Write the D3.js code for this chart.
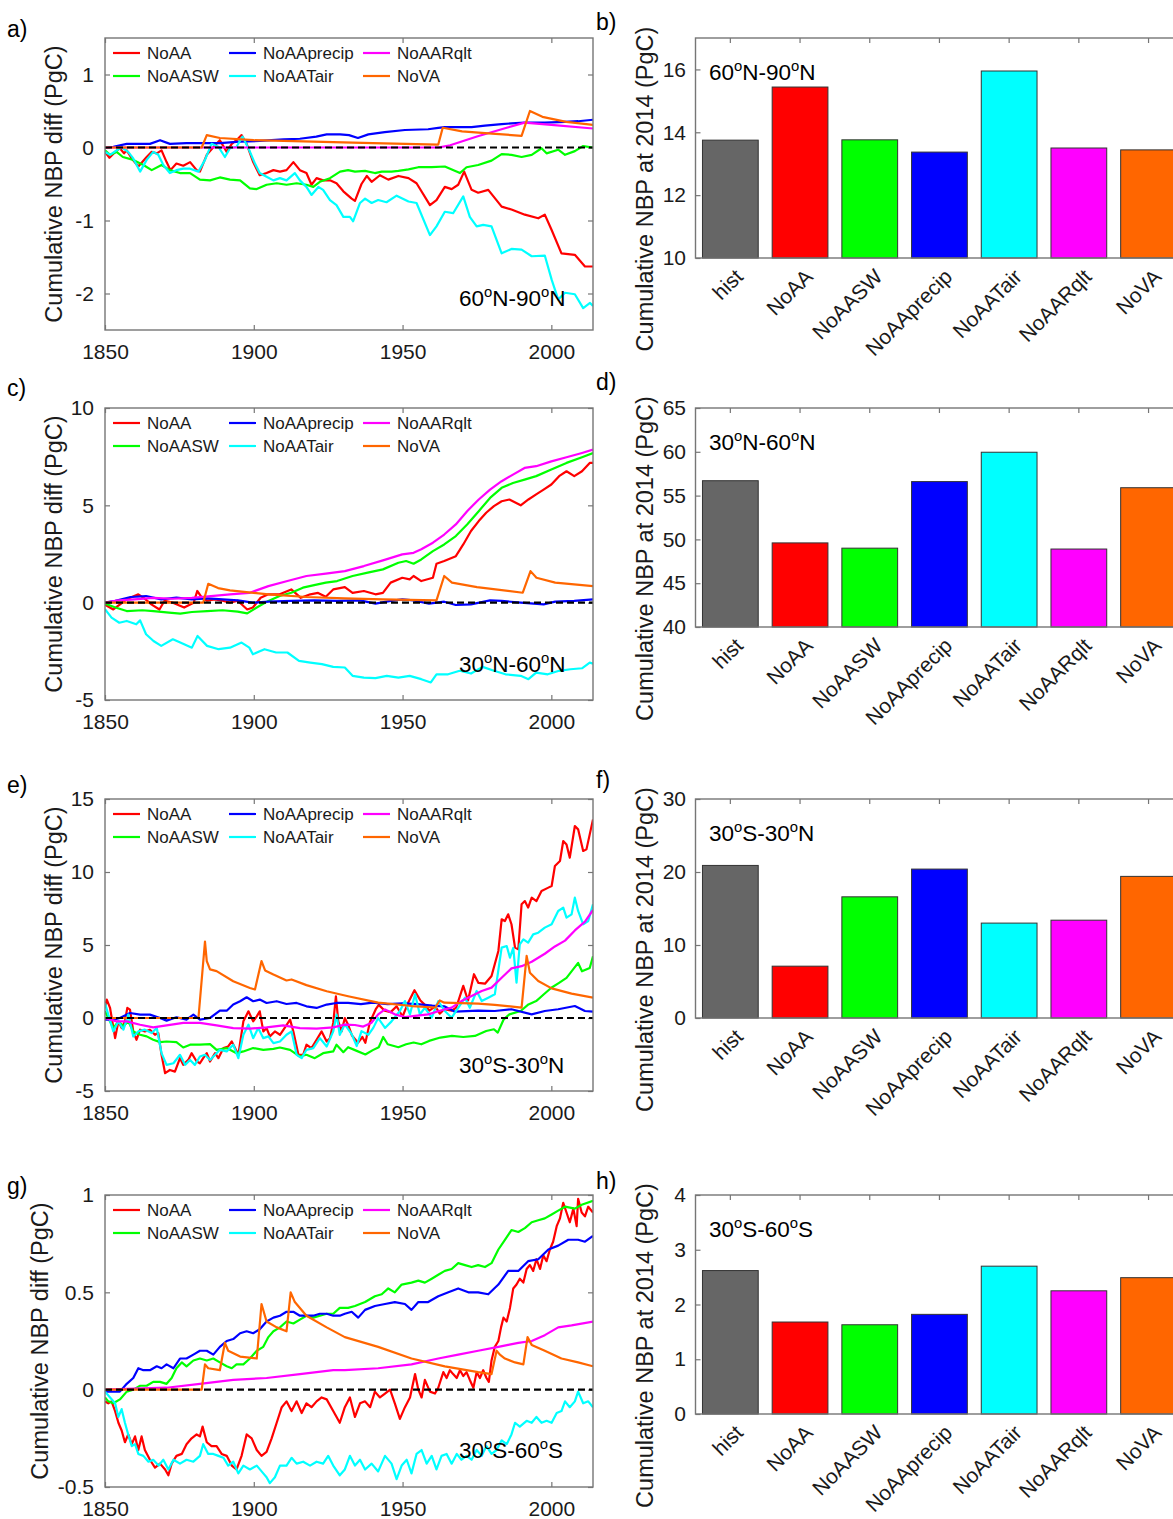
<!DOCTYPE html>
<html><head><meta charset="utf-8">
<script src="https://cdn.jsdelivr.net/npm/d3@7"></script>
<style>
body{margin:0;background:#fff}
svg{display:block}
text{font-family:"Liberation Sans",Arial,Helvetica,sans-serif}
</style>
</head><body>
<svg id="chart" width="1173" height="1519"></svg>
<script>
// ---------------- DATA ----------------
const yearTicks = [1850, 1900, 1950, 2000];
const seriesNames = ["NoAA", "NoAASW", "NoAAprecip", "NoAATair", "NoAARqlt", "NoVA"];
const barCategories = ["hist", "NoAA", "NoAASW", "NoAAprecip", "NoAATair", "NoAARqlt", "NoVA"];

// panel a : 60N-90N  [year, cumulative NBP diff]
const a_NoAA = [[1850,-0.06],[1851.5,-0.14],[1853.4,-0.06],[1855,-0.01],[1856.4,-0.08],[1857.3,-0.04],[1859,-0.15],[1861.2,-0.26],[1864,-0.13],[1865.7,-0.06],[1867.4,-0.08],[1869,-0.04],[1870.7,-0.2],[1872,-0.31],[1874,-0.22],[1876.3,-0.25],[1878.6,-0.2],[1880.8,-0.31],[1881.9,-0.33],[1884.2,-0.1],[1887,0.03],[1888.6,0.1],[1890.9,-0.06],[1892.6,0.05],[1894.2,0.1],[1895.9,0.17],[1897.6,0.05],[1899.8,-0.2],[1902,-0.38],[1904.3,-0.35],[1906.6,-0.31],[1908.8,-0.33],[1911,-0.31],[1913.3,-0.2],[1915.5,-0.31],[1917.7,-0.35],[1919.4,-0.51],[1921.1,-0.42],[1923.3,-0.45],[1925.6,-0.45],[1927.8,-0.49],[1930.1,-0.6],[1932.9,-0.7],[1934,-0.73],[1936.2,-0.5],[1938,-0.39],[1939.6,-0.47],[1942.4,-0.38],[1945.2,-0.44],[1948.6,-0.39],[1952,-0.42],[1954.7,-0.49],[1959.2,-0.79],[1961.4,-0.72],[1964.2,-0.54],[1966.5,-0.57],[1968.7,-0.51],[1970.7,-0.33],[1973.2,-0.58],[1975.4,-0.62],[1978.8,-0.58],[1983.3,-0.81],[1986.6,-0.85],[1991.1,-0.92],[1995.6,-0.97],[1997.8,-0.92],[2000.1,-1.13],[2003.4,-1.45],[2007.9,-1.47],[2011.3,-1.63],[2014,-1.63]];
const a_NoAASW = [[1850,-0.04],[1851.7,-0.1],[1853.9,-0.06],[1856,-0.13],[1859.5,-0.17],[1862.9,-0.24],[1865.7,-0.31],[1869,-0.24],[1871.8,-0.31],[1875.2,-0.35],[1878.6,-0.35],[1881.9,-0.44],[1885.3,-0.45],[1888.6,-0.41],[1892,-0.44],[1895.4,-0.45],[1898.7,-0.56],[1901,-0.57],[1904.3,-0.51],[1907.7,-0.49],[1911,-0.51],[1914.4,-0.49],[1917.7,-0.51],[1920,-0.54],[1922.2,-0.47],[1925.6,-0.42],[1929,-0.33],[1931.7,-0.31],[1934,-0.33],[1937.4,-0.32],[1940.7,-0.35],[1943,-0.33],[1946.3,-0.33],[1948.6,-0.32],[1952,-0.3],[1955.3,-0.27],[1959.8,-0.27],[1964.2,-0.26],[1969.3,-0.35],[1971.5,-0.27],[1975.4,-0.24],[1979.9,-0.18],[1983.3,-0.09],[1986.6,-0.1],[1990,-0.13],[1993.4,-0.1],[1996.7,-0.01],[1998.4,-0.08],[2002.3,-0.03],[2004.6,-0.1],[2007.9,-0.05],[2010.7,0.02],[2014,0]];
const a_NoAAprecip = [[1850,-0.01],[1852.8,0.01],[1857.3,0.05],[1861.8,0.05],[1865.1,0.05],[1868.5,0.1],[1871.8,0.05],[1877.4,0.06],[1881.9,0.06],[1888.6,0.06],[1895.4,0.08],[1902,0.09],[1910,0.11],[1915.5,0.12],[1921,0.15],[1924.5,0.18],[1929,0.18],[1932,0.17],[1935,0.13],[1938.5,0.18],[1944,0.21],[1950.8,0.24],[1958.6,0.25],[1962,0.27],[1964.2,0.28],[1973.2,0.28],[1977.7,0.3],[1983.3,0.32],[1986.6,0.33],[1991.1,0.34],[1997.8,0.34],[2004.6,0.35],[2009,0.36],[2014,0.38]];
const a_NoAATair = [[1850,-0.06],[1851.7,-0.1],[1853.9,-0.04],[1855.6,0],[1857.8,-0.06],[1859.5,-0.15],[1861.8,-0.33],[1864,-0.17],[1866.2,-0.06],[1867.9,-0.1],[1869.6,-0.24],[1871.8,-0.35],[1874,-0.31],[1876.3,-0.29],[1878.6,-0.29],[1881.4,-0.33],[1883.6,-0.17],[1885.8,0.05],[1888.1,0.01],[1890.3,-0.13],[1892,-0.01],[1894.2,0.01],[1896.2,0.15],[1898.2,-0.01],[1900.4,-0.22],[1902,-0.35],[1904.3,-0.4],[1906.6,-0.45],[1908.8,-0.42],[1911,-0.45],[1913.8,-0.35],[1915.5,-0.45],[1917.7,-0.54],[1919.4,-0.65],[1921.7,-0.54],[1923.3,-0.58],[1925.6,-0.72],[1927.8,-0.79],[1930.1,-0.95],[1932.3,-0.95],[1933.4,-1.01],[1935.7,-0.76],[1937.4,-0.7],[1939.6,-0.76],[1941.8,-0.72],[1944.6,-0.75],[1948,-0.66],[1952,-0.74],[1954.7,-0.76],[1959.2,-1.2],[1961.4,-1.08],[1964.2,-0.88],[1967,-0.9],[1970.4,-0.67],[1972.6,-0.95],[1974.9,-1.08],[1977.1,-1.06],[1979.9,-1.08],[1983.3,-1.45],[1986.6,-1.39],[1990,-1.4],[1993.4,-1.49],[1997.8,-1.48],[2000.1,-1.81],[2002.3,-2.08],[2004.6,-1.99],[2007.9,-2.01],[2010.7,-2.2],[2013,-2.13],[2014,-2.17]];
const a_NoAARqlt = [[1850,0],[1962,0],[1966,0.03],[1975,0.15],[1985,0.27],[1991,0.34],[2000,0.31],[2014,0.26]];
const a_NoVA = [[1850,0],[1882.5,0],[1884.2,0.17],[1888.6,0.13],[1900,0.1],[1920,0.08],[1940,0.06],[1962,0.04],[1963.5,0.27],[1970,0.22],[1980,0.19],[1990,0.16],[1992.8,0.5],[1997,0.42],[2005,0.35],[2014,0.31]];

// panel c : 30N-60N
const c_NoAA = [[1850,-0.1],[1852.8,-0.35],[1857.3,0.17],[1861.2,0.43],[1863,0.25],[1865.7,-0.1],[1868.3,-0.35],[1870,0.1],[1872.8,0],[1876.6,-0.25],[1879.8,0],[1881,0.6],[1882.4,0.3],[1884.3,0.1],[1886.9,0.17],[1889.5,0.1],[1892,0],[1894.6,0.1],[1897.8,-0.35],[1899.7,-0.25],[1902.3,0.25],[1904.9,0.43],[1908.7,0.43],[1912.6,0.68],[1915.8,0.25],[1919,0.43],[1921.6,0.5],[1924.2,0.3],[1926.7,0.68],[1930.6,0.8],[1933.2,0.5],[1937,0.6],[1940.9,0.43],[1943.4,0.5],[1946,1.03],[1949.9,1.28],[1952.4,1.2],[1953.7,1.37],[1956.3,1.11],[1960.2,1.28],[1961.4,2.0],[1964,2.14],[1967.9,2.39],[1970.4,2.99],[1973,3.68],[1975.6,4.19],[1978.1,4.62],[1980.7,4.96],[1983.3,5.21],[1985.9,5.3],[1989.7,5.0],[1992.3,5.3],[1994.9,5.56],[1997.4,5.81],[2000,6.07],[2002.6,6.5],[2005.1,6.75],[2007.7,6.5],[2010.3,6.75],[2012.9,7.18],[2014,7.18]];
const c_NoAASW = [[1850,-0.05],[1853.5,-0.25],[1857.3,-0.43],[1862.5,-0.39],[1866.3,-0.43],[1871.5,-0.51],[1875.3,-0.56],[1879.2,-0.48],[1884.3,-0.43],[1889.5,-0.39],[1894.6,-0.46],[1897.8,-0.55],[1901,-0.25],[1904.9,0.09],[1908.7,0.34],[1912.6,0.51],[1916.5,0.77],[1920.3,0.9],[1924.2,1.03],[1928,1.11],[1933.2,1.37],[1938.3,1.54],[1943.4,1.71],[1948.6,2.05],[1951.2,2.14],[1953.7,2.0],[1956.3,2.22],[1960.2,2.65],[1964,2.99],[1967.9,3.42],[1971.7,4.02],[1975.6,4.7],[1979.4,5.38],[1983.3,5.9],[1987.1,6.15],[1991,6.32],[1994.9,6.5],[2000,6.84],[2005.1,7.18],[2010.3,7.47],[2014,7.69]];
const c_NoAAprecip = [[1850,0],[1853.5,0.09],[1858.6,0.29],[1863.8,0.34],[1868.9,0.17],[1874,0.26],[1879.2,0.17],[1884.3,0.22],[1889.5,0.17],[1894.6,0.12],[1899.7,0],[1904.9,0.05],[1912.6,0.09],[1920.3,0.12],[1928,0.09],[1935.7,0.12],[1940.9,-0.05],[1946,0.09],[1949.9,0.17],[1953.7,0.12],[1958.9,-0.05],[1964,0.05],[1967.9,-0.12],[1973,-0.09],[1979.4,0.12],[1983.3,0.09],[1989.7,0],[1997.4,-0.09],[2001.3,0.05],[2007.7,0.09],[2014,0.17]];
const c_NoAATair = [[1850,-0.34],[1852.2,-0.77],[1854.8,-1.03],[1857.3,-0.94],[1860.5,-1.11],[1861.8,-0.91],[1863.8,-1.62],[1866.3,-1.97],[1868.9,-2.22],[1872.8,-1.88],[1875.3,-2.05],[1879.2,-2.31],[1881.1,-1.71],[1884.3,-2.22],[1888.2,-2.39],[1892,-2.31],[1895.9,-2.05],[1898.5,-2.31],[1899.7,-2.65],[1903.6,-2.39],[1907.5,-2.56],[1911.3,-2.56],[1915.2,-2.99],[1919,-3.08],[1922.9,-3.16],[1926.7,-3.3],[1930.6,-3.33],[1933.2,-3.76],[1937,-3.85],[1940.9,-3.88],[1944.7,-3.76],[1948.6,-3.85],[1952.4,-3.76],[1956.3,-3.93],[1959.5,-4.1],[1961.4,-3.68],[1965.3,-3.68],[1969.2,-3.5],[1973,-3.64],[1976.9,-3.3],[1980.7,-3.5],[1984.6,-3.68],[1989.7,-3.76],[1992.3,-3.93],[1994.9,-3.59],[1998.8,-3.68],[2002.6,-3.5],[2006.4,-3.42],[2010.3,-3.37],[2012.9,-3.08],[2014,-3.13]];
const c_NoAARqlt = [[1850,0],[1853.5,0.1],[1859.9,0.17],[1866.3,0.25],[1872.8,0.2],[1879.2,0.25],[1885.6,0.34],[1892,0.43],[1898.5,0.5],[1904.9,0.85],[1911.3,1.11],[1917.7,1.37],[1924.2,1.49],[1930.6,1.62],[1937,1.88],[1943.4,2.17],[1949.9,2.48],[1953.7,2.56],[1956.3,2.74],[1960.2,3.08],[1964,3.5],[1967.9,4.02],[1971.7,4.7],[1975.6,5.3],[1979.4,5.81],[1983.3,6.24],[1987.1,6.58],[1991,6.92],[1994.9,7.01],[2000,7.26],[2005.1,7.47],[2010.3,7.69],[2014,7.86]];
const c_NoVA = [[1850,0],[1883,0],[1884.7,0.97],[1888,0.75],[1892,0.63],[1904.9,0.43],[1917.7,0.29],[1930.6,0.22],[1943.4,0.17],[1961.4,0.12],[1964,1.37],[1966.6,1.03],[1975,0.8],[1990.4,0.51],[1993,1.62],[1995,1.28],[2001.3,1.03],[2014,0.85]];

// panel e : 30S-30N
const e_NoAA = [[1850,0.69],[1850.6,1.26],[1851.7,0.69],[1853.4,-1.38],[1854.5,-0.23],[1855.6,-0.69],[1856.7,-0.23],[1857.5,0.69],[1858.4,0.57],[1859.5,-0.92],[1860.6,-1.49],[1861.8,-0.8],[1863.4,-0.92],[1865.1,-0.8],[1866.8,-1.15],[1867.9,-1.03],[1869,-2.52],[1870.2,-3.78],[1871.8,-3.56],[1873.5,-3.67],[1875.2,-2.75],[1876.3,-3.21],[1878,-2.87],[1879.1,-2.41],[1880.8,-2.98],[1881.9,-3.1],[1883,-2.75],[1884.2,-2.41],[1885.3,-2.98],[1887,-2.41],[1888.1,-2.75],[1889.8,-2.06],[1891.4,-1.95],[1892.6,-1.61],[1893.7,-2.06],[1894.8,-2.52],[1896.5,-0.23],[1898.2,0.46],[1899.8,-0.23],[1901,0.11],[1902,0.46],[1903.2,-0.92],[1904.3,-0.69],[1905.4,-1.26],[1907.1,-0.92],[1908.8,-1.15],[1910.5,-0.64],[1912.2,-0.11],[1913.3,-0.92],[1915,-2.52],[1916.6,-2.52],[1917.7,-1.83],[1919.4,-2.06],[1921.1,-1.49],[1922.8,-0.92],[1924.5,-1.61],[1925.6,-1.38],[1926.7,-0.34],[1927.6,1.49],[1928.4,-0.23],[1929.5,-0.92],[1930.6,0],[1931.7,-0.46],[1933,-1.2],[1935,-1.7],[1936.5,-1.3],[1937.5,-1.7],[1939,-0.3],[1941,0.6],[1942,0.9],[1944,0.5],[1946,0.4],[1948,0.8],[1950,0.1],[1952,1.1],[1954,1.9],[1956,1.2],[1957.5,0.9],[1959,0.5],[1961,0.8],[1962.5,0.3],[1964,0.6],[1966.5,0.5],[1968,0.7],[1970.4,2.2],[1972,1.2],[1974,3.0],[1975.5,2.4],[1977.7,2.35],[1979.9,2.88],[1982.2,4.59],[1983.3,6.76],[1984.4,6.64],[1985.5,7.1],[1986.6,6.42],[1987.8,4.82],[1988.9,4.7],[1990,7.79],[1991.1,8.01],[1992.2,7.56],[1993.4,8.24],[1995,8.01],[1996.7,8.7],[1999,8.93],[2000.1,9.04],[2001.2,10.41],[2002.9,10.75],[2004,12.12],[2005.1,11.89],[2006.2,10.98],[2007.9,13.15],[2009,12.92],[2010.7,11.44],[2011.8,11.55],[2014,13.6]];
const e_NoAASW = [[1850,0.46],[1851.1,0],[1852.8,-0.69],[1854.5,-0.23],[1856.2,-0.57],[1857.8,-0.23],[1859.5,-0.92],[1861.8,-1.15],[1864,-1.26],[1866.2,-1.49],[1868.5,-1.65],[1870.7,-1.61],[1874,-1.65],[1876.3,-2.02],[1878.6,-1.83],[1881.9,-1.83],[1885.3,-1.79],[1887.5,-2.18],[1890.9,-2.06],[1894.2,-2.41],[1896.5,-2.29],[1899.8,-2.06],[1903.2,-2.18],[1906.6,-2.11],[1908.8,-2.02],[1912.2,-2.18],[1915.5,-2.64],[1917.7,-2.52],[1920.5,-2.75],[1923.3,-2.41],[1926.7,-2.29],[1927.8,-1.83],[1930.1,-2.34],[1931.7,-2.0],[1934,-2.2],[1937.5,-2.5],[1940,-2.2],[1942,-2.0],[1943.5,-1.3],[1945,-1.8],[1948.6,-2.0],[1951.2,-1.8],[1953.7,-1.68],[1956.3,-1.8],[1958.9,-1.57],[1962.7,-1.34],[1966.6,-1.23],[1970.4,-1.3],[1974.3,-1.23],[1978.1,-0.89],[1980.7,-0.77],[1982,-1.0],[1984,-0.09],[1985.9,0.25],[1989.7,0.48],[1992.3,0.93],[1994.9,1.16],[1997.4,1.61],[2000,2.07],[2002.6,2.41],[2005.1,2.75],[2007.7,3.43],[2009,3.77],[2010.3,3.2],[2012.9,3.43],[2014,4.23]];
const e_NoAAprecip = [[1850,-0.11],[1852.8,-0.11],[1855,0],[1858.4,0.34],[1861.8,0.23],[1865.1,0.23],[1868.5,0],[1870.7,-0.18],[1874,0.05],[1877.4,-0.11],[1879.7,0.23],[1881.9,-0.11],[1885.3,0],[1888.6,0.5],[1890.9,0.5],[1893.1,0.92],[1895.4,1.15],[1897.6,1.42],[1899.8,1.15],[1902,1.26],[1904.3,1.03],[1907.7,1.15],[1911,0.96],[1914.4,1.03],[1917.7,0.8],[1921.1,0.69],[1924.5,0.92],[1927.8,1.03],[1931.7,1.03],[1936,0.95],[1940,1.05],[1945,0.95],[1950,1.0],[1955,0.95],[1960,0.85],[1964,0.8],[1967.6,0.43],[1975.4,0.5],[1981,0.48],[1986.6,0.6],[1993.4,0.25],[1997.8,0.48],[2002.3,0.6],[2007.9,0.82],[2011.3,0.48],[2014,0.43]];
const e_NoAATair = [[1850,1.03],[1851.1,0.23],[1852.8,-0.92],[1854.5,-0.23],[1856.2,-0.8],[1857.8,0.23],[1859.5,-1.26],[1861.2,-0.92],[1863.4,-0.8],[1865.7,-1.03],[1867.4,-0.69],[1869,-2.41],[1870.7,-3.21],[1873,-3.1],[1875.2,-2.52],[1876.9,-3.21],[1878.6,-2.87],[1880.2,-3.21],[1881.9,-2.64],[1883.6,-2.52],[1885.3,-2.87],[1887,-2.52],[1888.6,-2.18],[1890.9,-2.29],[1893.1,-1.83],[1894.8,-2.75],[1896.5,-1.15],[1898.2,-0.46],[1899.8,-1.38],[1901.5,-0.69],[1903.2,-1.38],[1904.9,-1.26],[1906.6,-1.72],[1908.8,-1.61],[1911,-1.15],[1912.7,-0.92],[1914.4,-2.52],[1916.1,-2.75],[1917.7,-2.18],[1920,-2.06],[1922.2,-1.38],[1924.5,-1.95],[1926.7,-0.92],[1927.8,0.23],[1928.9,-1.15],[1930.6,-0.43],[1932.9,-1.1],[1934.6,-1.92],[1936.2,-0.9],[1938.5,-1.15],[1940.2,-0.66],[1941.8,0],[1944.1,-0.68],[1946.3,-0.23],[1949.1,0.48],[1950.8,1.16],[1952.5,0.25],[1954.2,1.62],[1955.8,0.25],[1957.5,0.7],[1959.8,0.02],[1962,1.16],[1964.2,0.48],[1966.5,0.02],[1968.7,0.7],[1971,1.39],[1972.6,0.7],[1974.9,1.85],[1976.6,1.16],[1978.8,1.39],[1981,1.62],[1983.3,4.82],[1985,4.93],[1986.1,4.13],[1987.2,4.8],[1988.3,2.42],[1989.4,5.05],[1990.6,5.39],[1992.2,5.16],[1993.9,5.73],[1995.6,5.84],[1997.8,6.19],[2000.1,6.42],[2002.3,7.33],[2004,7.56],[2005.1,6.87],[2006.8,7.1],[2007.9,8.24],[2009,7.33],[2010.7,6.42],[2012.4,6.64],[2014,7.79]];
const e_NoAARqlt = [[1850,0],[1853.9,-0.23],[1857.3,-0.23],[1861.8,-0.46],[1866.2,-0.64],[1870.7,-0.5],[1876.3,-0.34],[1881.9,-0.34],[1887.5,-0.5],[1893.1,-0.69],[1898.7,-0.73],[1904.3,-0.64],[1909.9,-0.5],[1915.5,-0.69],[1921.1,-0.73],[1926.7,-0.64],[1930.6,-0.45],[1934,-0.48],[1936.8,-0.59],[1939.6,-0.32],[1941.8,0.25],[1944.1,0.59],[1947.4,0.25],[1950.8,0.07],[1954.2,0.14],[1958.6,0.25],[1963.1,0.53],[1966.5,0.71],[1969.8,1.16],[1973.2,1.51],[1976.6,1.85],[1979.9,2.08],[1983.3,2.76],[1986.6,3.4],[1990,3.55],[1993.4,3.85],[1997.8,4.4],[2001.2,4.9],[2004.6,5.3],[2007.9,6.0],[2011.3,6.6],[2014,7.4]];
const e_NoVA = [[1850,0],[1881.4,0],[1883.6,5.23],[1884.2,3.9],[1885.3,3.33],[1887.5,3.21],[1893.1,2.52],[1898.7,2.06],[1900.4,1.95],[1902.6,3.9],[1903.8,3.26],[1906.6,2.98],[1911,2.57],[1912.7,2.64],[1917.7,2.25],[1924.5,1.83],[1931.7,1.49],[1941.8,1.05],[1953,0.82],[1961,0.72],[1962.5,1.2],[1964,1.05],[1975.4,0.98],[1981,0.9],[1990,0.71],[1991.7,4.25],[1992.8,3.1],[1995.6,2.53],[2000.1,2.03],[2006.8,1.67],[2014,1.39]];

// panel g : 30S-60S
const g_NoAA = [[1850,-0.06],[1851.1,-0.07],[1852.2,-0.06],[1853.4,-0.11],[1854.5,-0.17],[1855.6,-0.21],[1856.7,-0.27],[1857.8,-0.23],[1859,-0.28],[1860.1,-0.24],[1861.2,-0.31],[1862.3,-0.24],[1863.4,-0.31],[1865.1,-0.36],[1866.8,-0.4],[1868.5,-0.38],[1870.2,-0.41],[1871.3,-0.44],[1872.4,-0.38],[1874,-0.34],[1875.8,-0.33],[1877.4,-0.28],[1879.1,-0.25],[1880.8,-0.23],[1881.9,-0.24],[1882.8,-0.19],[1884.2,-0.27],[1885.8,-0.29],[1887.5,-0.29],[1889.2,-0.33],[1890.9,-0.34],[1892.6,-0.39],[1894.2,-0.41],[1895.9,-0.34],[1897.6,-0.23],[1899.3,-0.25],[1901,-0.31],[1902.6,-0.34],[1904.3,-0.32],[1906,-0.25],[1907.7,-0.17],[1909.4,-0.09],[1911,-0.06],[1912.7,-0.11],[1914.4,-0.06],[1916.1,-0.12],[1917.7,-0.07],[1919.4,-0.09],[1921.1,-0.06],[1922.8,-0.04],[1924.5,-0.05],[1926.7,-0.11],[1928.9,-0.17],[1930.6,-0.09],[1932.3,-0.04],[1934,-0.14],[1935.7,-0.07],[1937.4,-0.06],[1939.1,-0.09],[1940.7,-0.01],[1942.4,-0.04],[1944.1,-0.02],[1945.8,0],[1947.4,-0.07],[1949.1,-0.15],[1950.8,-0.09],[1952.5,-0.04],[1954.2,0.08],[1955.3,0],[1956.4,-0.04],[1957.5,0.05],[1959.2,-0.01],[1960.9,-0.02],[1962,0.01],[1963.7,0.09],[1964.8,0.06],[1965.9,0.1],[1967,0.08],[1968.2,0.06],[1969.3,0.1],[1970.4,0.07],[1971.5,0.09],[1972.6,0.05],[1973.8,0.01],[1974.9,0.09],[1976,0.06],[1977.1,0.1],[1978.2,0.06],[1979,0.04],[1979.9,0.15],[1981,0.22],[1982.2,0.25],[1983.1,0.32],[1983.9,0.37],[1985,0.35],[1986.1,0.42],[1987.2,0.52],[1988.3,0.54],[1989.4,0.57],[1990.6,0.55],[1991.7,0.62],[1992.8,0.64],[1993.9,0.61],[1995,0.67],[1996.2,0.62],[1997.3,0.69],[1998.4,0.66],[1999.5,0.72],[2000.6,0.76],[2001.8,0.84],[2002.9,0.88],[2004,0.96],[2005.1,0.91],[2006.2,0.86],[2007.4,0.93],[2008.5,0.84],[2009,0.98],[2010.2,0.91],[2011.3,0.89],[2012.4,0.94],[2014,0.91]];
const g_NoAASW = [[1850,-0.04],[1851.1,-0.06],[1852.8,-0.07],[1855,-0.05],[1857.3,-0.01],[1859.5,0],[1861.8,0.02],[1864,0.02],[1866.2,0.04],[1868.5,0.04],[1870.7,0.03],[1872.4,0.06],[1874,0.11],[1875.8,0.14],[1877.4,0.12],[1879.7,0.15],[1881.9,0.16],[1884.2,0.15],[1886.4,0.16],[1888.6,0.14],[1890.9,0.12],[1892.6,0.11],[1894.2,0.13],[1896.5,0.13],[1898.7,0.16],[1901,0.2],[1903.2,0.22],[1904.9,0.27],[1906.6,0.3],[1908.8,0.32],[1911,0.35],[1913.3,0.34],[1915.5,0.36],[1917.7,0.38],[1920,0.37],[1922.2,0.38],[1924.5,0.39],[1926.7,0.39],[1928.9,0.42],[1931.7,0.42],[1934,0.43],[1937.4,0.45],[1940.7,0.48],[1943,0.49],[1945.2,0.52],[1947.4,0.5],[1949.7,0.54],[1953,0.55],[1955.3,0.56],[1957.5,0.55],[1959.8,0.57],[1962,0.59],[1964.2,0.61],[1966.5,0.62],[1968.7,0.65],[1971,0.64],[1973.2,0.63],[1975.4,0.64],[1977.7,0.63],[1979.9,0.65],[1982.2,0.72],[1984.4,0.77],[1986.6,0.82],[1988.9,0.81],[1991.1,0.83],[1993.4,0.86],[1995.6,0.87],[1997.8,0.88],[2000.1,0.9],[2002.3,0.92],[2004.6,0.94],[2007.9,0.93],[2010.2,0.95],[2014,0.97]];
const g_NoAAprecip = [[1850,-0.01],[1852.8,-0.01],[1855,-0.01],[1857.3,0.03],[1859.5,0.06],[1861.2,0.11],[1862.9,0.1],[1865.1,0.1],[1867.4,0.12],[1869,0.11],[1870.7,0.13],[1873,0.11],[1875.2,0.16],[1877.4,0.16],[1879.7,0.18],[1881.9,0.2],[1884.2,0.2],[1886.4,0.18],[1888.6,0.22],[1890.9,0.25],[1893.1,0.26],[1895.4,0.29],[1897.6,0.3],[1899.8,0.29],[1902,0.31],[1904.3,0.35],[1906.6,0.37],[1908.8,0.38],[1911,0.4],[1913.3,0.4],[1915.5,0.38],[1917.7,0.38],[1920,0.38],[1922.2,0.39],[1924.5,0.39],[1926.7,0.38],[1928.9,0.38],[1930.6,0.39],[1932.9,0.4],[1935.1,0.37],[1937.4,0.41],[1940.7,0.43],[1944.1,0.44],[1947.4,0.45],[1950.8,0.44],[1953,0.41],[1955.3,0.45],[1958.6,0.45],[1962,0.48],[1965.4,0.5],[1968.7,0.52],[1972.1,0.5],[1975.4,0.5],[1978.8,0.49],[1982.2,0.54],[1985.5,0.61],[1988.9,0.61],[1992.2,0.66],[1995.6,0.67],[1999,0.72],[2002.3,0.74],[2005.7,0.77],[2009,0.77],[2011.3,0.76],[2014,0.79]];
const g_NoAATair = [[1850,-0.01],[1851.7,-0.04],[1853.4,-0.07],[1854.5,-0.14],[1855.6,-0.1],[1856.7,-0.17],[1857.8,-0.23],[1859,-0.29],[1860.1,-0.28],[1861.2,-0.33],[1862.9,-0.34],[1864.6,-0.37],[1866.2,-0.36],[1868,-0.39],[1869.6,-0.36],[1871.3,-0.41],[1873,-0.36],[1875.2,-0.38],[1877.4,-0.36],[1879.7,-0.37],[1881.9,-0.34],[1883,-0.28],[1884.7,-0.33],[1886.4,-0.33],[1888.1,-0.34],[1889.8,-0.35],[1891.4,-0.39],[1893.1,-0.37],[1894.8,-0.43],[1896.5,-0.39],[1898.7,-0.41],[1901,-0.39],[1903.2,-0.43],[1904.3,-0.45],[1905.4,-0.48],[1907.1,-0.45],[1908.8,-0.39],[1911,-0.39],[1912.7,-0.35],[1914.4,-0.38],[1916.6,-0.37],[1918.9,-0.39],[1921.1,-0.37],[1923.3,-0.38],[1925,-0.34],[1926.7,-0.39],[1928.9,-0.44],[1930.6,-0.41],[1932.3,-0.34],[1934,-0.39],[1935.7,-0.36],[1937.4,-0.41],[1939.6,-0.38],[1941.8,-0.42],[1944.1,-0.34],[1946.3,-0.38],[1948,-0.46],[1949.7,-0.39],[1951.4,-0.36],[1953,-0.43],[1954.7,-0.33],[1956.4,-0.31],[1958.1,-0.38],[1959.8,-0.34],[1961.4,-0.41],[1963.1,-0.34],[1964.8,-0.33],[1966.5,-0.38],[1968.2,-0.33],[1969.8,-0.36],[1971.5,-0.34],[1973.2,-0.36],[1974.9,-0.31],[1976.6,-0.34],[1978.2,-0.29],[1979.9,-0.33],[1981.6,-0.31],[1983.3,-0.26],[1985,-0.28],[1986.6,-0.23],[1987.8,-0.17],[1989.4,-0.19],[1991.7,-0.16],[1993.4,-0.17],[1995,-0.14],[1996.7,-0.17],[1998.4,-0.16],[2000.1,-0.17],[2001.8,-0.12],[2003.4,-0.11],[2004.6,-0.06],[2006.2,-0.09],[2007.9,-0.06],[2009,-0.01],[2010.7,-0.07],[2012.4,-0.06],[2014,-0.09]];
const g_NoAARqlt = [[1850,0],[1860,0.005],[1870.7,0.01],[1881.9,0.03],[1893.1,0.05],[1904.3,0.06],[1915.5,0.08],[1926.7,0.1],[1930.6,0.1],[1941.8,0.11],[1953,0.13],[1962,0.16],[1968.7,0.18],[1975.4,0.2],[1982.2,0.22],[1985.5,0.23],[1988.9,0.24],[1993.4,0.25],[1997.8,0.28],[2002.3,0.32],[2006.8,0.33],[2014,0.35]];
const g_NoVA = [[1850,0],[1882.5,0],[1883.6,0.13],[1884.7,0.11],[1888.6,0.1],[1889.8,0.2],[1890.3,0.24],[1891.4,0.2],[1895.4,0.17],[1901,0.16],[1902.6,0.44],[1904.3,0.35],[1907.7,0.32],[1911,0.3],[1912.4,0.5],[1913.8,0.45],[1917.7,0.38],[1924.5,0.32],[1930.6,0.27],[1941.8,0.22],[1953,0.16],[1964.2,0.12],[1975.4,0.09],[1979.9,0.08],[1981.6,0.2],[1982.7,0.18],[1984.4,0.16],[1987.8,0.14],[1990.6,0.13],[1992,0.27],[1993.4,0.23],[1997.8,0.2],[2003.4,0.16],[2009,0.14],[2014,0.12]];

// bar panels : cumulative NBP at 2014 (PgC)
const b_values = [13.75, 15.44, 13.76, 13.37, 15.95, 13.5, 13.44];
const d_values = [56.7, 49.6, 49.0, 56.6, 59.95, 48.9, 55.9];
const f_values = [20.9, 7.1, 16.6, 20.4, 13.0, 13.4, 19.4];
const h_values = [2.62, 1.68, 1.63, 1.82, 2.70, 2.25, 2.49];

// tick values
const a_yTicks = [-2, -1, 0, 1];
const c_yTicks = [-5, 0, 5, 10];
const e_yTicks = [-5, 0, 5, 10, 15];
const g_yTicks = [-0.5, 0, 0.5, 1];
const b_yTicks = [10, 12, 14, 16];
const d_yTicks = [40, 45, 50, 55, 60, 65];
const f_yTicks = [0, 10, 20, 30];
const h_yTicks = [0, 1, 2, 3, 4];

// ---------------- STYLE / LAYOUT ----------------
const seriesColors = ["#ff0000", "#00ff00", "#0000ff", "#00ffff", "#ff00ff", "#ff6600"];
const barColors = ["#666666", "#ff0000", "#00ff00", "#0000ff", "#00ffff", "#ff00ff", "#ff6600"];
const axisColor = "#767676";
const textColor = "#1a1a1a";
const tickFont = 21, labelFont = 23.5, legendFont = 17, regionFont = 22.5, letterFont = 23;

const plotL = 105, plotR = 593;
const barL = 695.5, barR = 695.5 + 7 * 69.7;

const svg = d3.select("#chart");

const linePanels = [
  {id:"a", top:38, bottom:330, yDomain:[-2.5,1.5], yTicks:a_yTicks, region:"60^oN-90^oN", regionY:306,
   letterY:37, labelX:62, data:[a_NoAA,a_NoAASW,a_NoAAprecip,a_NoAATair,a_NoAARqlt,a_NoVA]},
  {id:"c", top:408, bottom:700, yDomain:[-5,10], yTicks:c_yTicks, region:"30^oN-60^oN", regionY:672,
   letterY:396, labelX:62, data:[c_NoAA,c_NoAASW,c_NoAAprecip,c_NoAATair,c_NoAARqlt,c_NoVA]},
  {id:"e", top:799, bottom:1091, yDomain:[-5,15], yTicks:e_yTicks, region:"30^oS-30^oN", regionY:1073,
   letterY:793, labelX:62, data:[e_NoAA,e_NoAASW,e_NoAAprecip,e_NoAATair,e_NoAARqlt,e_NoVA]},
  {id:"g", top:1195, bottom:1487, yDomain:[-0.5,1], yTicks:g_yTicks, region:"30^oS-60^oS", regionY:1458,
   letterY:1194, labelX:48, data:[g_NoAA,g_NoAASW,g_NoAAprecip,g_NoAATair,g_NoAARqlt,g_NoVA]}
];
const barPanels = [
  {id:"b", top:38, bottom:258, yDomain:[10,17], yTicks:b_yTicks, region:"60^oN-90^oN", letterY:30, values:b_values},
  {id:"d", top:408, bottom:627, yDomain:[40,65], yTicks:d_yTicks, region:"30^oN-60^oN", letterY:390, values:d_values},
  {id:"f", top:799, bottom:1018, yDomain:[0,30], yTicks:f_yTicks, region:"30^oS-30^oN", letterY:788, values:f_values},
  {id:"h", top:1195, bottom:1414, yDomain:[0,4], yTicks:h_yTicks, region:"30^oS-60^oS", letterY:1189, values:h_values}
];

function regionText(sel, label, x, y, size) {
  const t = sel.append("text").attr("x", x).attr("y", y).attr("font-size", size).attr("fill", "#000");
  label.split("^o").forEach((p, i) => {
    if (i > 0) {
      t.append("tspan").attr("dy", -size * 0.42).attr("font-size", size * 0.66).text("o");
      t.append("tspan").attr("dy", size * 0.42).text(p);
    } else {
      t.append("tspan").text(p);
    }
  });
}

function styleAxis(g, size) {
  g.attr("font-size", size).attr("font-family", "'Liberation Sans',Arial,sans-serif");
  g.selectAll("text").attr("fill", textColor);
  g.selectAll("line").attr("stroke", axisColor).attr("stroke-width", 1.2);
  g.select(".domain").remove();
}

function linePanel(p) {
  const x = d3.scaleLinear().domain([1850, 2014]).range([plotL, plotR]);
  const y = d3.scaleLinear().domain(p.yDomain).range([p.bottom, p.top]);
  const g = svg.append("g");
  const clipId = "clip-" + p.id;
  svg.append("defs").append("clipPath").attr("id", clipId)
    .append("rect").attr("x", plotL).attr("y", p.top).attr("width", plotR - plotL).attr("height", p.bottom - p.top);

  const gx = g.append("g").attr("transform", `translate(0,${p.bottom})`)
    .call(d3.axisBottom(x).tickValues(yearTicks).tickSize(-5).tickPadding(14).tickFormat(d3.format("d")));
  styleAxis(gx, tickFont);
  const gxt = g.append("g").attr("transform", `translate(0,${p.top})`)
    .call(d3.axisTop(x).tickValues(yearTicks).tickSize(-5).tickFormat(""));
  styleAxis(gxt, tickFont);
  const gy = g.append("g").attr("transform", `translate(${plotL},0)`)
    .call(d3.axisLeft(y).tickValues(p.yTicks).tickSize(-5).tickPadding(11).tickFormat(d => String(d)));
  styleAxis(gy, tickFont);
  const gyr = g.append("g").attr("transform", `translate(${plotR},0)`)
    .call(d3.axisRight(y).tickValues(p.yTicks).tickSize(-5).tickFormat(""));
  styleAxis(gyr, tickFont);

  const line = d3.line().x(d => x(d[0])).y(d => y(d[1]));
  const lg = g.append("g").attr("clip-path", `url(#${clipId})`);
  p.data.forEach((s, i) => {
    lg.append("path").datum(s).attr("d", line).attr("fill", "none")
      .attr("stroke", seriesColors[i]).attr("stroke-width", 2.2).attr("stroke-linejoin", "round");
  });
  lg.append("line").attr("x1", x(1850)).attr("x2", x(2014)).attr("y1", y(0)).attr("y2", y(0))
    .attr("stroke", "#000").attr("stroke-width", 2.2).attr("stroke-dasharray", "7,4");

  g.append("rect").attr("x", plotL).attr("y", p.top).attr("width", plotR - plotL).attr("height", p.bottom - p.top)
    .attr("fill", "none").attr("stroke", axisColor).attr("stroke-width", 1.4);

  // legend (2 rows x 3 columns, column-major)
  const colX = [plotL + 8, plotL + 124, plotL + 258];
  const rowY = [p.top + 15, p.top + 38];
  seriesNames.forEach((name, i) => {
    const cx = colX[Math.floor(i / 2)], cy = rowY[i % 2];
    g.append("line").attr("x1", cx).attr("x2", cx + 27).attr("y1", cy).attr("y2", cy)
      .attr("stroke", seriesColors[i]).attr("stroke-width", 2.2);
    g.append("text").attr("x", cx + 34).attr("y", cy).attr("dy", "0.35em")
      .attr("font-size", legendFont).attr("fill", textColor).text(name);
  });

  regionText(g, p.region, 459, p.regionY, regionFont);

  g.append("text").attr("transform", `translate(${p.labelX},${(p.top + p.bottom) / 2}) rotate(-90)`)
    .attr("text-anchor", "middle").attr("font-size", labelFont).attr("fill", textColor)
    .text("Cumulative NBP diff (PgC)");
  g.append("text").attr("x", 7).attr("y", p.letterY).attr("font-size", letterFont).attr("fill", "#000").text(p.id + ")");
}

function barPanel(p) {
  const x = d3.scaleBand().domain(barCategories).range([barL, barR]).paddingInner(0.2).paddingOuter(0.1);
  const y = d3.scaleLinear().domain(p.yDomain).range([p.bottom, p.top]);
  const g = svg.append("g");

  const gx = g.append("g").attr("transform", `translate(0,${p.bottom})`)
    .call(d3.axisBottom(x).tickSize(-5).tickFormat(""));
  styleAxis(gx, tickFont);
  const gxt = g.append("g").attr("transform", `translate(0,${p.top})`)
    .call(d3.axisTop(x).tickSize(-5).tickFormat(""));
  styleAxis(gxt, tickFont);
  const gy = g.append("g").attr("transform", `translate(${barL},0)`)
    .call(d3.axisLeft(y).tickValues(p.yTicks).tickSize(-5).tickPadding(9.5).tickFormat(d => String(d)));
  styleAxis(gy, tickFont);

  g.selectAll(".bar").data(p.values).enter().append("rect")
    .attr("x", (d, i) => x(barCategories[i]))
    .attr("y", d => y(d))
    .attr("width", x.bandwidth())
    .attr("height", d => p.bottom - y(d))
    .attr("fill", (d, i) => barColors[i])
    .attr("stroke", "#333").attr("stroke-width", 1);

  g.append("rect").attr("x", barL).attr("y", p.top).attr("width", barR - barL).attr("height", p.bottom - p.top)
    .attr("fill", "none").attr("stroke", axisColor).attr("stroke-width", 1.4);

  barCategories.forEach(c => {
    const cx = x(c) + x.bandwidth() / 2;
    g.append("text").attr("transform", `translate(${cx + 14},${p.bottom + 20}) rotate(-45)`)
      .attr("text-anchor", "end").attr("font-size", tickFont).attr("fill", textColor).text(c);
  });

  regionText(g, p.region, 709, p.top + 42, regionFont);

  g.append("text").attr("transform", `translate(653,${(p.top + p.bottom) / 2 + 41}) rotate(-90)`)
    .attr("text-anchor", "middle").attr("font-size", labelFont).attr("fill", textColor)
    .text("Cumulative NBP at 2014 (PgC)");
  g.append("text").attr("x", 596).attr("y", p.letterY).attr("font-size", letterFont).attr("fill", "#000").text(p.id + ")");
}

linePanels.forEach(linePanel);
barPanels.forEach(barPanel);
</script>
</body></html>
